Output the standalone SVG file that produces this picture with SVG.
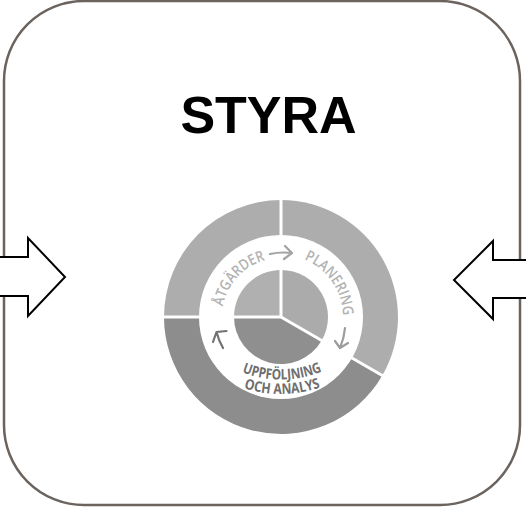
<svg xmlns="http://www.w3.org/2000/svg" width="526" height="509" viewBox="0 0 526 509">
<style>
.frame{fill:#fff;stroke:#6b635e;stroke-width:2.5}
.blk{fill:#fff;stroke:#000;stroke-width:2;stroke-linejoin:miter}
.title{font-family:"Liberation Sans",Arial,sans-serif;font-weight:700;font-size:52px;fill:#000}
.lt{fill:#adadad}
.dk{fill:#8d8d8d}
.div{stroke:#fff;stroke-width:3}
.ring{font-family:"Open Sans","DejaVu Sans",sans-serif;font-weight:600;font-size:15px;fill:#b3b3b3}
.ring2{font-family:"Open Sans","DejaVu Sans",sans-serif;font-weight:700;font-size:14.5px;fill:#6e6e6e}
.arr{fill:none;stroke-width:2.2;stroke-linecap:round;stroke-linejoin:round}
</style>
<defs>
<path id="pA" d="M222,317 A59,59 0 0 1 281,258 A59,59 0 0 1 340,317"/>
<path id="pP" d="M219,317 A62,62 0 0 1 281,255 A62,62 0 0 1 343,317 A62,62 0 0 1 334.7,348"/>
<path id="pU" d="M188.3,326 A107,107 0 0 0 373.7,326"/>
<path id="pO" d="M176.2,333.5 A121,121 0 0 0 385.8,333.5"/>
</defs>
<g id="frame">
<rect class="frame" x="4" y="1" width="516" height="504" rx="80" ry="80"/>
</g>
<g id="title">
<text class="title" x="268.5" y="133" text-anchor="middle">STYRA</text>
</g>
<g id="cycle">
<path class="lt" d="M281,317 L164,317 A117,117 0 0 1 281,200 Z"/>
<path class="lt" d="M281,317 L281,200 A117,117 0 0 1 382.3,375.5 Z"/>
<path class="dk" d="M281,317 L382.3,375.5 A117,117 0 0 1 164,317 Z"/>
<circle cx="281" cy="317" r="82" fill="#fff"/>
<path fill="#b0b0b0" d="M281,317 L234,317 A47,47 0 0 1 281,270 Z"/>
<path fill="#ababab" d="M281,317 L281,270 A47,47 0 0 1 321.7,340.5 Z"/>
<path fill="#8f8f8f" d="M281,317 L321.7,340.5 A47,47 0 0 1 234,317 Z"/>
<line class="div" x1="281" y1="317" x2="162" y2="317"/>
<line class="div" x1="281" y1="317" x2="281" y2="198"/>
<line class="div" x1="281" y1="317" x2="384" y2="376.5"/>
</g>
<g id="label-atgarder">
<text class="ring" text-anchor="middle"><textPath href="#pA" startOffset="23.5%" textLength="66" lengthAdjust="spacingAndGlyphs">ÅTGÄRDER</textPath></text>
</g>
<g id="label-planering">
<text class="ring" text-anchor="middle"><textPath href="#pP" startOffset="69.2%" textLength="72" lengthAdjust="spacingAndGlyphs">PLANERING</textPath></text>
</g>
<g id="label-uppfoljning">
<text class="ring2" text-anchor="middle"><textPath href="#pU" startOffset="50.5%" textLength="82" lengthAdjust="spacingAndGlyphs">UPPFÖLJNING</textPath></text>
<text class="ring2" text-anchor="middle"><textPath href="#pO" startOffset="50.5%" textLength="78" lengthAdjust="spacingAndGlyphs">OCH ANALYS</textPath></text>
</g>
<g id="cycle-arrows">
<path class="arr" stroke="#a3a3a3" d="M270,254 A64.5,64.5 0 0 1 292,253 M285,246 L292,253 L284,259"/>
<path class="arr" stroke="#9c9c9c" d="M345,328 A65.5,65.5 0 0 1 340,348 M335,341 L340,348 L348,343"/>
<path class="arr" stroke="#727272" d="M223,348 A65.7,65.7 0 0 1 216.5,332 M226.5,331 L216.5,332 L213,342"/>
</g>
<g id="connectors">
<polygon class="blk" points="-3,257 28,257 28,238 65,277 28,316 28,296 -3,296"/>
<polygon class="blk" points="529,260 493,260 493,241 454,280 493,319 493,298 529,298"/>
</g>
</svg>
